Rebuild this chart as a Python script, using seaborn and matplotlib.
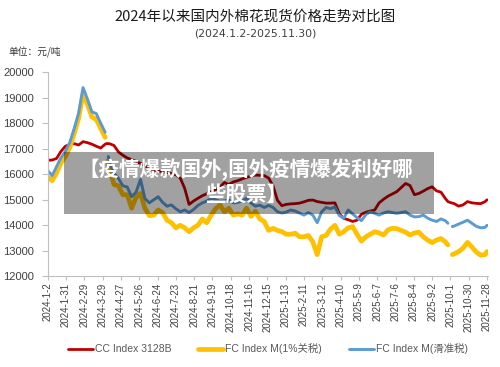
import matplotlib
matplotlib.use("Agg")
import matplotlib.pyplot as plt
from matplotlib.lines import Line2D
from matplotlib.patches import Rectangle
import numpy as np
import pandas as pd
import seaborn as sns

# sample days counted from 2024-01-02 (roughly weekly, with the two holiday breaks of the FC index)
start_date = pd.Timestamp("2024-01-02")
day_offsets = (list(range(0, 92, 7)) + [94, 96] + list(range(98, 631, 7))
               + [634, 637, 641] + list(range(644, 694, 7)) + [696])

cc_3128b = [
    16550, 16560, 16620, 16900, 17100, 17170, 17200, 17150, 17280, 17240, 17180, 17100, 17030, 17180,
    17210, 17200,
    17200, 17130, 16880, 16750, 16640, 16580, 16500, 16430, 16340, 16250,
    16170, 16130, 16100, 16070, 16030, 15980, 15850, 15450, 14820, 14950,
    15060, 15160, 15240, 15320, 15400, 15500, 15680, 15600, 15700, 15750,
    15820, 15880, 15930, 15970, 15960, 15950, 15850, 15550, 14980, 14770,
    14820, 14840, 14850, 14870, 14920, 14980, 14990, 14930, 14900, 14870,
    14870, 14880, 14450, 14270, 14220, 14150, 14200, 14430, 14510, 14560,
    14600, 14880, 15020, 15140, 15230, 15320, 15480, 15640, 15560, 15200,
    15250, 15340, 15440, 15510, 15350, 15300, 15050,
    14930, 14900, 14870,
    14850, 14750, 14800, 14930, 14880, 14860, 14850, 14930,
    15000,
]

fc_m_1pct = [
    15900, 15750, 16050, 16450, 16700, 17050, 17600, 18200, 19150, 18750, 18250, 18150, 17800, 17450,
    np.nan, 16550,
    16200, 15600, 15550, 15200, 15200, 14670, 15100, 15250, 14670, 14380,
    14400, 14600, 14500, 14200, 14100, 13900, 14000, 13900, 13750, 13900,
    14000, 14250, 14100, 14400, 14650, 14800, 14530, 14670, 14400, 14450,
    14400, 14670, 14350, 14550, 14250, 14150, 13800, 13880, 13800, 13750,
    13650, 13650, 13690, 13550, 13550, 13600, 13350, 12850, 13550, 13600,
    13850, 14000, 13650, 13750, 13900, 13950, 13650, 13380, 13550, 13650,
    13750, 13700, 13620, 13820, 13880, 13870, 13800, 13730, 13620, 13700,
    13730, 13550, 13420, 13320, 13420, 13480, 13350,
    13230, np.nan, 12850,
    12880, 12970, 13100, 13330, 13150, 12950, 12830, 12850,
    12970,
]

fc_m_sliding = [
    16150, 15950, 16300, 16650, 16900, 17250, 17800, 18400, 19400, 18950, 18450, 18380, 18000, 17650,
    np.nan, 16700,
    16450, 16050, 15840, 15550, 15500, 15120, 15300, 15800, 15050, 14880,
    15000, 15120, 14900, 14750, 14800, 14650, 14530, 14600, 14500, 14620,
    14780, 14880, 14950, 15060, 15000, 14940, 14960, 14990, 14880, 14900,
    14950, 15060, 14870, 14750, 14790, 14700, 14780, 14700, 14530, 14480,
    14520, 14600, 14560, 14480, 14400, 14500, 14400, 14100, 14530, 14700,
    14650, 14720, 14380, 14280, 14600, 14450, 14300, 14180, 14420, 14530,
    14470, 14400, 14480, 14530, 14500, 14470, 14500, 14530, 14400, 14330,
    14340, 14400, 14280, 14200, 14150, 14250, 14180,
    14080, np.nan, 13950,
    13970, 14050, 14120, 14200, 14080, 13960, 13900, 13920,
    14000,
]

series_names = ["CC Index 3128B", "FC Index M(1%关税)", "FC Index M(滑准税)"]
series_colors = ["#C00000", "#FFC000", "#5B9BD5"]
series_widths = [2.0, 3.4, 2.1]

tick_labels = [
    "2024-1-2", "2024-1-31", "2024-2-29", "2024-3-29", "2024-4-27", "2024-5-26",
    "2024-6-24", "2024-7-23", "2024-8-21", "2024-9-19", "2024-10-18", "2024-11-16",
    "2024-12-15", "2025-1-13", "2025-2-11", "2025-3-12", "2025-4-10", "2025-5-9",
    "2025-6-7", "2025-7-6", "2025-8-4", "2025-9-2", "2025-10-1", "2025-10-30",
    "2025-11-28",
]

title = "2024年以来国内外棉花现货价格走势对比图"
subtitle = "(2024.1.2-2025.11.30)"
unit_label = "单位：元/吨"
overlay_lines = ["【疫情爆款国外,国外疫情爆发利好哪", "些股票】"]

sns.set_style("ticks")
plt.rcParams["font.family"] = ["Liberation Sans", "Noto Sans CJK SC", "DejaVu Sans"]
cjk = ["Noto Sans CJK SC", "DejaVu Sans"]

# long table, one segment id per unbroken run of each series
frames = []
dates = start_date + pd.to_timedelta(day_offsets, unit="D")
for name, values in zip(series_names, [cc_3128b, fc_m_1pct, fc_m_sliding]):
    part = pd.DataFrame({"date": dates, "price": values})
    part["seg"] = part["price"].isna().cumsum()
    part["series"] = name
    frames.append(part.dropna())
df = pd.concat(frames, ignore_index=True)

W, H = 500, 367
fig = plt.figure(figsize=(W / 100, H / 100), dpi=100)
ax = fig.add_axes([47.7 / W, 1 - 276.3 / H, 440.6 / W, 204.0 / H])

sns.lineplot(
    data=df, x="date", y="price", hue="series", size="series", units="seg",
    estimator=None, hue_order=series_names, size_order=series_names,
    palette=dict(zip(series_names, series_colors)),
    sizes=dict(zip(series_names, series_widths)),
    legend=False, ax=ax,
)

ax.set_ylim(12000, 20000)
ax.set_yticks(range(12000, 20001, 1000))
ax.set_xlim(start_date, start_date + pd.Timedelta(days=698))
tick_dates = pd.to_datetime(tick_labels, format="%Y-%m-%d")
ax.set_xticks(tick_dates)
ax.set_xticklabels(tick_labels, rotation=90, fontsize=7, color="#404040")
ax.tick_params(axis="y", labelsize=8, labelcolor="#404040", length=4, pad=5.8, color="#BFBFBF")
ax.tick_params(axis="x", length=3, pad=1.5, color="#BFBFBF")
ax.set_xlabel("")
ax.set_ylabel("")
for side in ["top", "right"]:
    ax.spines[side].set_visible(False)
for side in ["left", "bottom"]:
    ax.spines[side].set_color("#BFBFBF")
    ax.spines[side].set_linewidth(0.8)

fig.text(255 / W, 1 - 17 / H, title, ha="center", va="center", fontsize=10.5,
         family=cjk, color="#1a1a1a")
fig.text(255 / W, 1 - 34 / H, subtitle, ha="center", va="center", fontsize=7.8,
         family=["DejaVu Sans"], color="#404040")
fig.text(8 / W, 1 - 52 / H, unit_label, ha="left", va="center", fontsize=7,
         family=cjk, color="#333333")

handles = [Line2D([], [], color=c, lw=w) for c, w in zip(series_colors, series_widths)]
fig.legend(handles, series_names, loc="center", bbox_to_anchor=(268 / W, 1 - 349 / H),
           ncol=3, frameon=False, fontsize=7.5, labelcolor="#595959",
           handlelength=2.4, handletextpad=0.2, columnspacing=2.6,
           prop={"family": ["Liberation Sans", "Noto Sans CJK SC"], "size": 7.5})

# semi-transparent banner laid over the plot
fig.add_artist(Rectangle((64 / W, 1 - 214 / H), 370 / W, 62 / H, transform=fig.transFigure,
                         facecolor="black", alpha=0.37, edgecolor="none", zorder=10))
fig.text(246 / W, 1 - 170 / H, overlay_lines[0], ha="center", va="center", fontsize=14.8,
         weight="bold", family=cjk, color="white", zorder=11)
fig.text(246 / W, 1 - 194 / H, overlay_lines[1], ha="center", va="center", fontsize=14.8,
         weight="bold", family=cjk, color="white", zorder=11)

fig.savefig("out.png", dpi=100)
